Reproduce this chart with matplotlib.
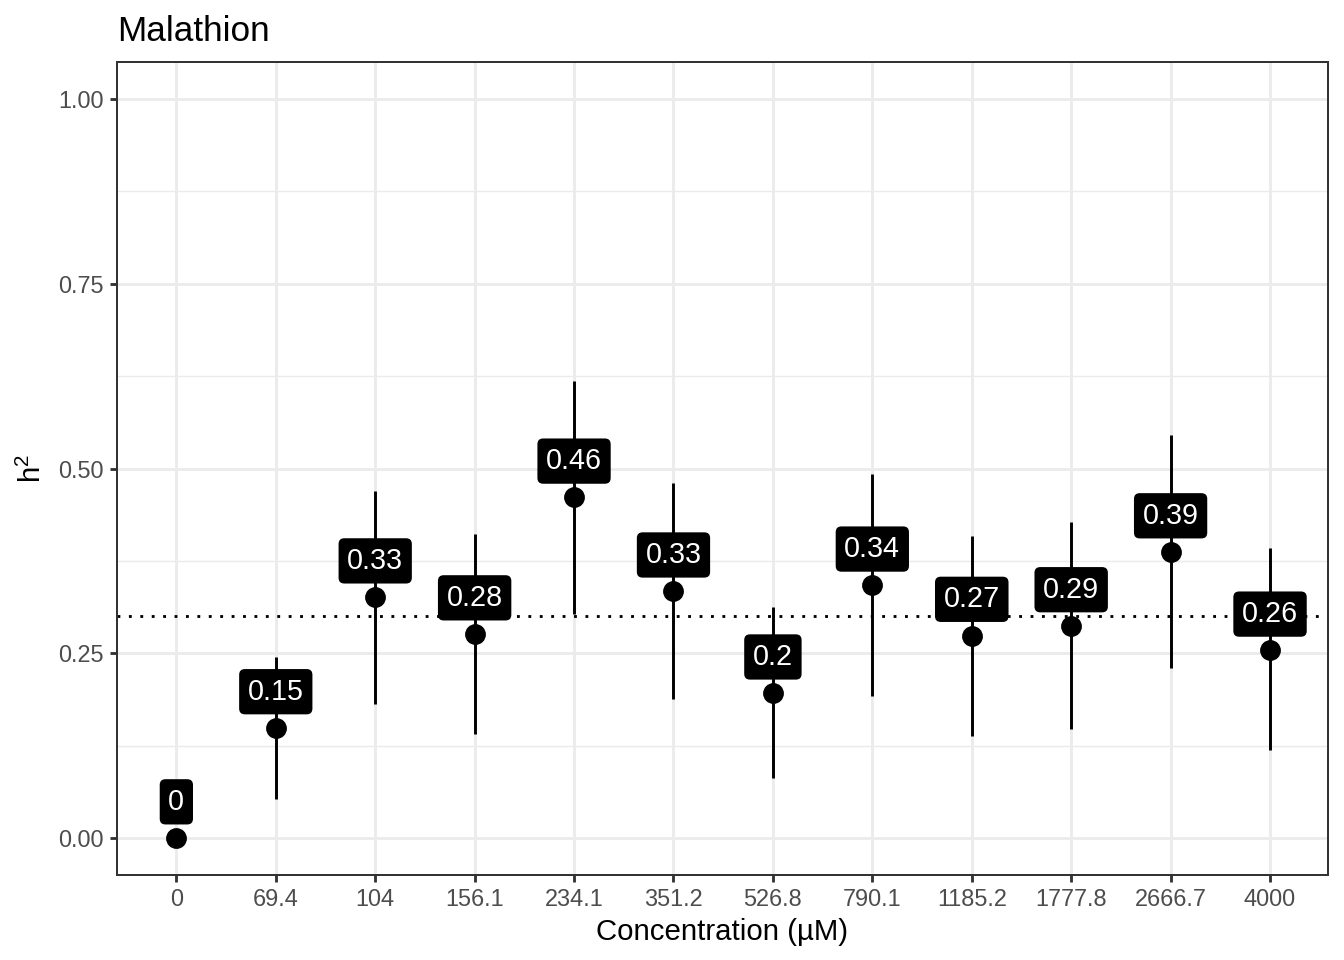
import matplotlib
matplotlib.use("Agg")
import matplotlib.pyplot as plt
import numpy as np

plt.rcParams['font.family'] = ['Liberation Sans', 'DejaVu Sans']
plt.rcParams['mathtext.fontset'] = 'custom'
plt.rcParams['mathtext.rm'] = 'Liberation Sans'
plt.rcParams['mathtext.it'] = 'Liberation Sans'
plt.rcParams['mathtext.default'] = 'regular'

concentrations = ["0", "69.4", "104", "156.1", "234.1", "351.2", "526.8",
                  "790.1", "1185.2", "1777.8", "2666.7", "4000"]
h2 = [0.0, 0.149, 0.326, 0.276, 0.461, 0.334, 0.196, 0.342, 0.274, 0.287, 0.387, 0.254]
h2_low = [0.0, 0.053, 0.181, 0.141, 0.303, 0.188, 0.081, 0.192, 0.138, 0.147, 0.230, 0.119]
h2_high = [0.0, 0.245, 0.470, 0.412, 0.619, 0.481, 0.312, 0.493, 0.409, 0.428, 0.546, 0.392]
labels = ["0", "0.15", "0.33", "0.28", "0.46", "0.33", "0.2", "0.34", "0.27", "0.29", "0.39", "0.26"]
threshold = 0.3

fig = plt.figure(figsize=(7, 5), dpi=192)
ax = fig.add_axes([116.7/1344, 1-875/960, (1327.7-116.7)/1344, (875-62)/960])

x = np.arange(len(concentrations))

ax.set_xlim(-0.6, len(concentrations) - 1 + 0.58)
ax.set_ylim(-0.05, 1.05)

# grid
for yv in [0.125, 0.375, 0.625, 0.875]:
    ax.axhline(yv, color='#EBEBEB', lw=0.53, zorder=0)
for yv in [0, 0.25, 0.5, 0.75, 1.0]:
    ax.axhline(yv, color='#EBEBEB', lw=1.07, zorder=0)
for xv in x:
    ax.axvline(xv, color='#EBEBEB', lw=1.07, zorder=0)

ax.axhline(threshold, color='black', lw=1.07, linestyle=(0, (1, 3)), zorder=1)

for i in x:
    if h2_high[i] > h2_low[i]:
        ax.vlines(i, h2_low[i], h2_high[i], color='black', lw=1.1, zorder=2)
ax.plot(x, h2, 'o', color='black', markersize=6.8, zorder=3)

for i in x:
    ax.text(i, h2[i] + 0.049, labels[i], ha='center', va='center', color='white',
            fontsize=10.8, zorder=4,
            bbox=dict(boxstyle='round,pad=0.3,rounding_size=0.2', fc='black', ec='none'))

ax.set_xticks(x)
ax.set_xticklabels(concentrations)
ax.set_yticks([0, 0.25, 0.5, 0.75, 1.0])
ax.set_yticklabels(["0.00", "0.25", "0.50", "0.75", "1.00"])
ax.tick_params(axis='both', direction='out', length=2.75, width=1.07, color='#333333',
               labelcolor='#4D4D4D', labelsize=8.8, pad=2.2)

for s in ax.spines.values():
    s.set_color('#333333')
    s.set_linewidth(0.75)

ax.set_xlabel("Concentration (µM)", fontsize=11, color='black', labelpad=2.5)
ax.set_ylabel(r"h$^{2}$", fontsize=11, color='black', labelpad=4)
ax.set_title("Malathion", loc='left', fontsize=13.2, color='black', pad=8)

fig.savefig("out.png", dpi=192)
